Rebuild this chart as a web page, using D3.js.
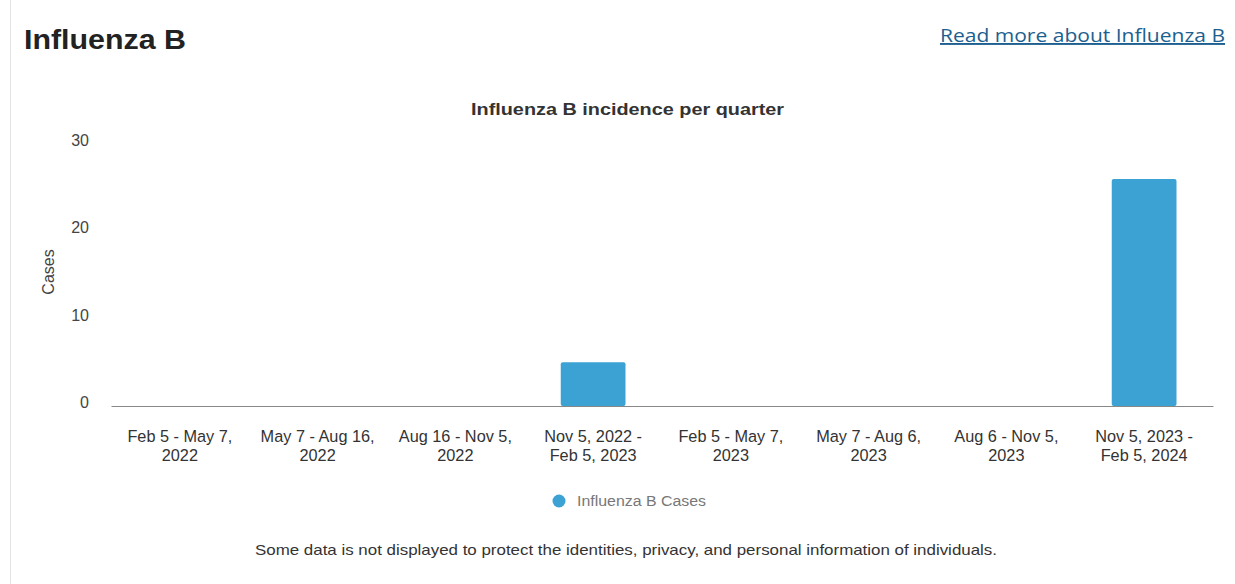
<!DOCTYPE html>
<html>
<head>
<meta charset="utf-8">
<script src="https://cdn.jsdelivr.net/npm/d3@7"></script>
<style>
body { margin:0; background:#fff; font-family:"Liberation Sans", Arial, sans-serif; }
svg { display:block; }
</style>
</head>
<body>
<svg id="chart" width="1235" height="584"></svg>
<script>
var quarters = [
  ["Feb 5 - May 7,", "2022"],
  ["May 7 - Aug 16,", "2022"],
  ["Aug 16 - Nov 5,", "2022"],
  ["Nov 5, 2022 -", "Feb 5, 2023"],
  ["Feb 5 - May 7,", "2023"],
  ["May 7 - Aug 6,", "2023"],
  ["Aug 6 - Nov 5,", "2023"],
  ["Nov 5, 2023 -", "Feb 5, 2024"]
];
var cases = [0, 0, 0, 5, 0, 0, 0, 26];
var yTicks = [0, 10, 20, 30];

var barColor = "#3ca1d3";

var svg = d3.select("#chart");

// page frame line on the left
svg.append("line")
   .attr("x1", 10.5).attr("x2", 10.5)
   .attr("y1", 0).attr("y2", 584)
   .attr("stroke", "#e2e2e2");

svg.append("text")
   .attr("x", 24).attr("y", 49)
   .attr("font-size", "27px")
   .attr("font-weight", "bold")
   .attr("fill", "#222")
   .attr("textLength", 162)
   .attr("lengthAdjust", "spacingAndGlyphs")
   .text("Influenza B");

svg.append("text")
   .attr("x", 940).attr("y", 42)
   .attr("font-family", "'Open Sans', sans-serif")
   .attr("font-size", "19px")
   .attr("fill", "#1d5f8f")
   .attr("text-decoration", "underline")
   .attr("textLength", 285)
   .attr("lengthAdjust", "spacingAndGlyphs")
   .text("Read more about Influenza B");

svg.append("text")
   .attr("x", 471).attr("y", 115)
   .attr("font-size", "16px")
   .attr("font-weight", "bold")
   .attr("fill", "#333")
   .attr("textLength", 313)
   .attr("lengthAdjust", "spacingAndGlyphs")
   .text("Influenza B incidence per quarter");

var plotLeft = 111, plotRight = 1213, plotTop = 144, plotBottom = 406;

var xScale = d3.scaleBand()
   .domain(quarters.map(function(d, i) { return i; }))
   .range([plotLeft, plotRight])
   .paddingInner(0.53)
   .paddingOuter(0.265);
var yScale = d3.scaleLinear().domain([0, 30]).range([plotBottom, plotTop]);

// y axis: labels only
var gy = svg.append("g")
   .attr("transform", "translate(" + (plotLeft - 22) + ",0)")
   .call(d3.axisLeft(yScale).tickValues(yTicks).tickSize(0).tickPadding(0));
gy.select(".domain").remove();
gy.selectAll("text")
   .attr("font-family", "'Liberation Sans', Arial, sans-serif")
   .attr("font-size", "16px")
   .attr("fill", "#444")
   .attr("dy", "0.1em");

svg.append("text")
   .attr("transform", "translate(54,272) rotate(-90)")
   .attr("text-anchor", "middle")
   .attr("font-size", "16px")
   .attr("fill", "#444")
   .text("Cases");

svg.selectAll(".bar")
   .data(cases)
   .enter().append("rect")
   .attr("class", "bar")
   .attr("x", function(d, i) { return xScale(i); })
   .attr("y", function(d) { return yScale(d); })
   .attr("width", xScale.bandwidth())
   .attr("height", function(d) { return plotBottom - yScale(d); })
   .attr("rx", 2)
   .attr("fill", barColor);

// x axis
var gx = svg.append("g")
   .attr("transform", "translate(0," + plotBottom + ")")
   .call(d3.axisBottom(xScale).tickSize(0).tickFormat(""));
gx.select(".domain")
   .attr("stroke", "#888")
   .attr("stroke-width", 1.2);

var labels = svg.selectAll(".xlab")
   .data(quarters)
   .enter().append("text")
   .attr("class", "xlab")
   .attr("text-anchor", "middle")
   .attr("font-size", "16.3px")
   .attr("fill", "#333")
   .attr("y", 442);
labels.each(function(d, i) {
   var t = d3.select(this);
   var cx = xScale(i) + xScale.bandwidth() / 2;
   t.append("tspan").attr("x", cx).text(d[0]);
   t.append("tspan").attr("x", cx).attr("dy", 19).text(d[1]);
});

// legend
svg.append("circle")
   .attr("cx", 559).attr("cy", 501).attr("r", 6.5)
   .attr("fill", barColor);
svg.append("text")
   .attr("x", 577).attr("y", 506)
   .attr("font-size", "14px")
   .attr("fill", "#777")
   .attr("textLength", 129)
   .attr("lengthAdjust", "spacingAndGlyphs")
   .text("Influenza B Cases");

svg.append("text")
   .attr("x", 255).attr("y", 555)
   .attr("font-size", "15px")
   .attr("fill", "#333")
   .attr("textLength", 742)
   .attr("lengthAdjust", "spacingAndGlyphs")
   .text("Some data is not displayed to protect the identities, privacy, and personal information of individuals.");
</script>
</body>
</html>
